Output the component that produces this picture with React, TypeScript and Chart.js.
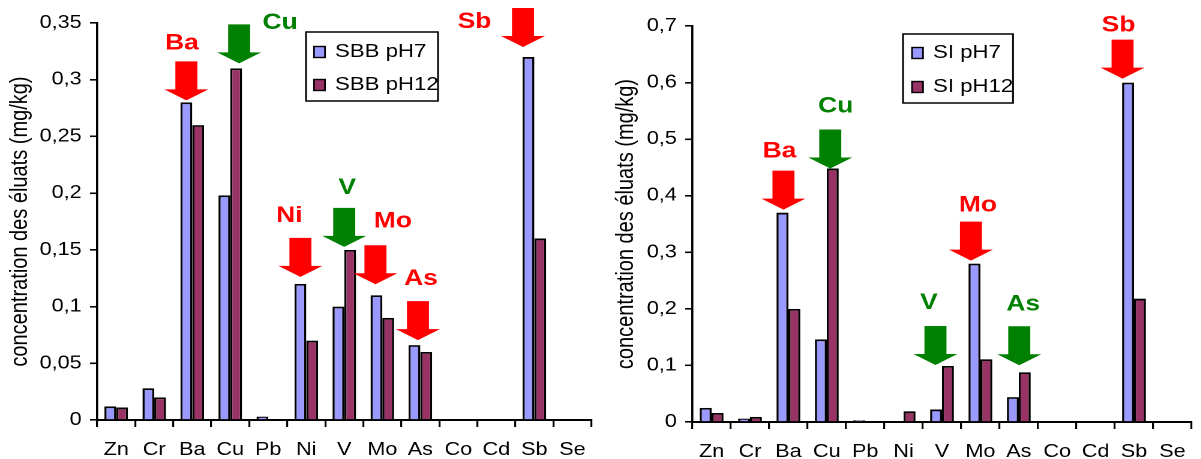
import React, { useEffect, useRef } from 'react';
import { Chart, registerables } from 'chart.js';

Chart.register(...registerables);

// ---------- data ----------
const CATEGORIES = ['Zn', 'Cr', 'Ba', 'Cu', 'Pb', 'Ni', 'V', 'Mo', 'As', 'Co', 'Cd', 'Sb', 'Se'];
const SBB_PH7 = [0.012, 0.028, 0.28, 0.198, 0.003, 0.12, 0.1, 0.11, 0.066, 0, 0, 0.32, 0];
const SBB_PH12 = [0.011, 0.02, 0.26, 0.31, 0, 0.07, 0.15, 0.09, 0.06, 0, 0, 0.16, 0];
const SI_PH7 = [0.025, 0.006, 0.37, 0.146, 0.003, 0, 0.022, 0.28, 0.044, 0, 0, 0.6, 0];
const SI_PH12 = [0.016, 0.009, 0.2, 0.448, 0, 0.019, 0.099, 0.111, 0.088, 0, 0, 0.218, 0];
const LEGEND_LEFT = ['SBB pH7', 'SBB pH12'];
const LEGEND_RIGHT = ['SI pH7', 'SI pH12'];
const Y_TITLE = 'concentration des éluats (mg/kg)';
const Y_MAX_LEFT = 0.35;
const Y_STEP_LEFT = 0.05;
const Y_MAX_RIGHT = 0.7;
const Y_STEP_RIGHT = 0.1;

// ---------- styles / layout ----------
const SX = 1.2; // horizontal stretch of the original picture
const BLUE = '#9999FF';
const MAROON = '#993366';
const RED = '#FF0000';
const GREEN = '#008000';
const FONT = '"Liberation Sans", Arial, Helvetica, sans-serif';

type Ann = { text: string; color: string; cat: string; ds: number; dx: number; gap: number; ldx: number; ldy: number };

const ARROWS_LEFT: Ann[] = [
  { text: 'Ba', color: RED, cat: 'Ba', ds: 0, dx: 0, gap: 2, ldx: -4.5, ldy: -18 },
  { text: 'Cu', color: GREEN, cat: 'Cu', ds: 1, dx: 3, gap: 5, ldx: 41, ldy: -1.5 },
  { text: 'Ni', color: RED, cat: 'Ni', ds: 0, dx: 0, gap: 7, ldx: -11, ldy: -22 },
  { text: 'V', color: GREEN, cat: 'V', ds: 1, dx: -6, gap: 3, ldx: 3, ldy: -20 },
  { text: 'Mo', color: RED, cat: 'Mo', ds: 0, dx: -1, gap: 11, ldx: 17.5, ldy: -24 },
  { text: 'As', color: RED, cat: 'As', ds: 0, dx: 3.5, gap: 5, ldx: 3, ldy: -22 },
  { text: 'Sb', color: RED, cat: 'Sb', ds: 0, dx: -5.5, gap: 10, ldx: -48.5, ldy: 14 },
];

const ARROWS_RIGHT: Ann[] = [
  { text: 'Ba', color: RED, cat: 'Ba', ds: 0, dx: 1, gap: 3, ldx: -4, ldy: -19 },
  { text: 'Cu', color: GREEN, cat: 'Cu', ds: 1, dx: -2.5, gap: 0, ldx: 5.5, ldy: -23 },
  { text: 'V', color: GREEN, cat: 'V', ds: 1, dx: -12.5, gap: 1, ldx: -6.5, ldy: -23 },
  { text: 'Mo', color: RED, cat: 'Mo', ds: 0, dx: -3.5, gap: 3, ldx: 7, ldy: -16 },
  { text: 'As', color: GREEN, cat: 'As', ds: 1, dx: -5.5, gap: 7, ldx: 4, ldy: -22 },
  { text: 'Sb', color: RED, cat: 'Sb', ds: 0, dx: -5.5, gap: 4, ldx: -4, ldy: -14 },
];

type LegendOpts = { box: [number, number, number, number]; sqX: number; textX: number; rows: number[]; labels: string[] };

const LEGEND_BOX_LEFT: LegendOpts = { box: [306, 32, 132, 69], sqX: 314, textX: 335, rows: [52, 85], labels: LEGEND_LEFT };
const LEGEND_BOX_RIGHT: LegendOpts = { box: [303, 34, 110, 69], sqX: 312, textX: 333, rows: [53, 87], labels: LEGEND_RIGHT };

const overlayPlugin = {
  id: 'overlay',
  afterDatasetsDraw(chart: any, _args: any, opts: any) {
    const ctx = chart.ctx as CanvasRenderingContext2D;
    const anns: Ann[] = opts.arrows || [];
    const len = 39;
    const headH = 11;
    const shaftW = 22 / SX;
    const headW = 44 / SX;
    for (const a of anns) {
      const idx = CATEGORIES.indexOf(a.cat);
      const el = chart.getDatasetMeta(a.ds).data[idx];
      if (!el) continue;
      const cx = el.x + a.dx / SX;
      const tipY = el.y - a.gap;
      const top = tipY - len;
      ctx.save();
      ctx.fillStyle = a.color;
      ctx.beginPath();
      ctx.moveTo(cx - shaftW / 2, top);
      ctx.lineTo(cx + shaftW / 2, top);
      ctx.lineTo(cx + shaftW / 2, tipY - headH);
      ctx.lineTo(cx + headW / 2, tipY - headH);
      ctx.lineTo(cx, tipY);
      ctx.lineTo(cx - headW / 2, tipY - headH);
      ctx.lineTo(cx - shaftW / 2, tipY - headH);
      ctx.closePath();
      ctx.fill();
      ctx.font = `bold 22px ${FONT}`;
      ctx.textAlign = 'center';
      ctx.textBaseline = 'middle';
      ctx.fillText(a.text, cx + a.ldx / SX, top + a.ldy);
      ctx.restore();
    }
    const lg: LegendOpts | undefined = opts.legend;
    if (lg) {
      const [bx, by, bw, bh] = lg.box;
      ctx.save();
      ctx.fillStyle = '#fff';
      ctx.fillRect(bx / SX, by, bw / SX, bh);
      ctx.strokeStyle = '#000';
      ctx.lineWidth = 1.5;
      ctx.strokeRect(bx / SX, by, bw / SX, bh);
      const colors = [BLUE, MAROON];
      lg.labels.forEach((lab, i) => {
        const y = lg.rows[i];
        const s = 11;
        ctx.fillStyle = colors[i];
        ctx.fillRect(lg.sqX / SX, y - s / 2, s / SX, s);
        ctx.lineWidth = 1.4;
        ctx.strokeRect(lg.sqX / SX, y - s / 2, s / SX, s);
        ctx.fillStyle = '#000';
        ctx.font = `18.5px ${FONT}`;
        ctx.textAlign = 'left';
        ctx.textBaseline = 'middle';
        ctx.fillText(lab, lg.textX / SX, y);
      });
      ctx.restore();
    }
  },
};

const fmt = (v: number) => String(Math.round(v * 100) / 100).replace('.', ',');

function makeConfig(
  labels: string[],
  s1: number[],
  s2: number[],
  yMax: number,
  yStep: number,
  padTop: number,
  xHeight: number,
  yWidth: number,
  titlePad: number,
  arrows: Ann[],
  legend: LegendOpts
): any {
  const ds = (label: string, data: number[], color: string) => ({
    label,
    data,
    backgroundColor: color,
    borderColor: '#000',
    borderWidth: 1.8,
    categoryPercentage: 0.62,
    barPercentage: 1,
  });
  return {
    type: 'bar',
    data: {
      labels: CATEGORIES,
      datasets: [ds(labels[0], s1, BLUE), ds(labels[1], s2, MAROON)],
    },
    options: {
      animation: false,
      responsive: false,
      devicePixelRatio: 2,
      layout: { padding: { top: padTop, left: 0, right: 0, bottom: 0 } },
      plugins: {
        legend: { display: false },
        tooltip: { enabled: false },
        overlay: { arrows, legend },
      },
      scales: {
        x: {
          offset: true,
          grid: { display: true, offset: true, drawOnChartArea: false, drawTicks: true, tickLength: 7, color: '#000', lineWidth: 1.6 },
          border: { display: true, color: '#000', width: 2 },
          ticks: { color: '#000', font: { family: FONT, size: 18 }, padding: 12, maxRotation: 0, autoSkip: false },
          afterFit: (s: any) => {
            s.height = xHeight;
          },
        },
        y: {
          min: 0,
          max: yMax,
          grid: { display: true, drawOnChartArea: false, drawTicks: true, tickLength: 6, color: '#000', lineWidth: 1.6 },
          border: { display: true, color: '#000', width: 1.8 },
          ticks: {
            stepSize: yStep,
            color: '#000',
            font: { family: FONT, size: 18 },
            padding: 7,
            callback: (v: number) => fmt(v),
          },
          title: {
            display: true,
            text: Y_TITLE,
            color: '#000',
            font: { family: FONT, size: 20 },
            padding: { top: titlePad, bottom: 0 },
          },
          afterFit: (s: any) => {
            s.width = yWidth;
          },
        },
      },
    },
    plugins: [overlayPlugin],
  };
}

export default function App() {
  const leftRef = useRef<HTMLCanvasElement>(null);
  const rightRef = useRef<HTMLCanvasElement>(null);

  useEffect(() => {
    const c1 = new Chart(
      leftRef.current as HTMLCanvasElement,
      makeConfig(LEGEND_LEFT, SBB_PH7, SBB_PH12, Y_MAX_LEFT, Y_STEP_LEFT, 23, 39, 81, 5, ARROWS_LEFT, LEGEND_BOX_LEFT)
    );
    const c2 = new Chart(
      rightRef.current as HTMLCanvasElement,
      makeConfig(LEGEND_RIGHT, SI_PH7, SI_PH12, Y_MAX_RIGHT, Y_STEP_RIGHT, 26, 37, 77, 10, ARROWS_RIGHT, LEGEND_BOX_RIGHT)
    );
    return () => {
      c1.destroy();
      c2.destroy();
    };
  }, []);

  const wrap = (left: number): React.CSSProperties => ({
    position: 'absolute',
    left,
    top: 0,
    width: 500,
    height: 459,
    transform: `scaleX(${SX})`,
    transformOrigin: '0 0',
  });

  return (
    <div style={{ position: 'absolute', left: 0, top: 0, width: 1201, height: 459, overflow: 'hidden', background: '#fff' }}>
      <div style={wrap(0)}>
        <canvas ref={leftRef} width={500} height={459} style={{ display: 'block', width: 500, height: 459 }} />
      </div>
      <div style={wrap(600)}>
        <canvas ref={rightRef} width={500} height={459} style={{ display: 'block', width: 500, height: 459 }} />
      </div>
    </div>
  );
}
